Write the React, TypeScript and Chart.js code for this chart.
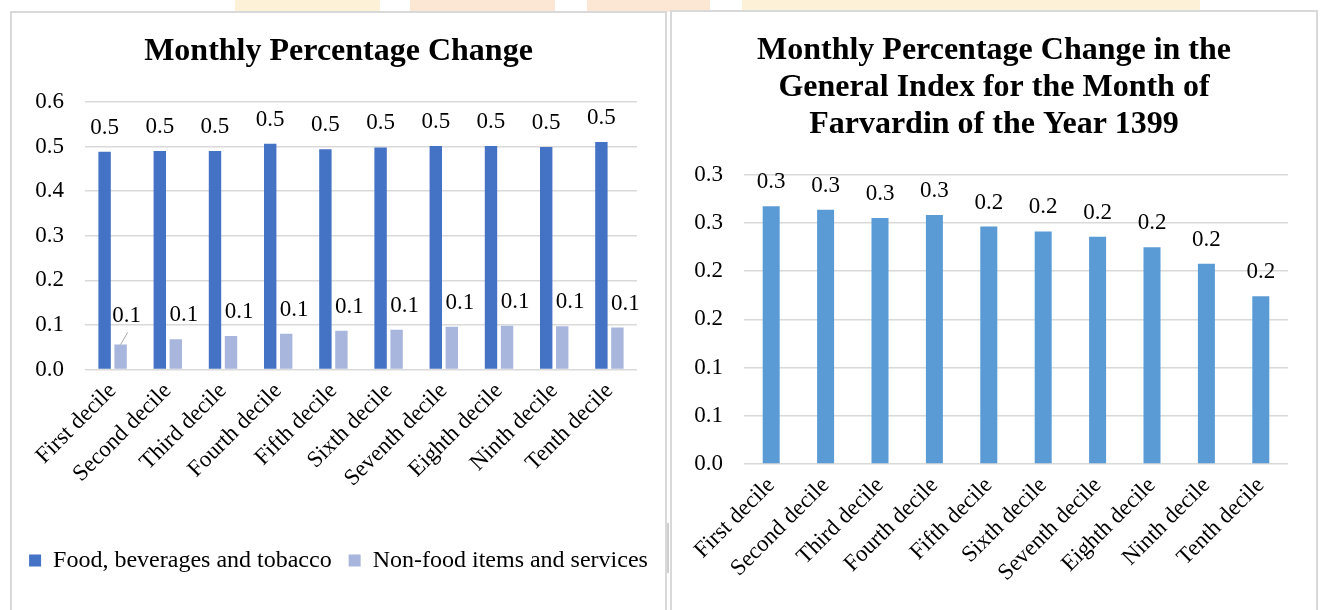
import React, { useEffect, useRef } from "react";
import { Chart, registerables } from "chart.js";

Chart.register(...registerables);

// ---------- data ----------
const deciles = [
  "First decile",
  "Second decile",
  "Third decile",
  "Fourth decile",
  "Fifth decile",
  "Sixth decile",
  "Seventh decile",
  "Eighth decile",
  "Ninth decile",
  "Tenth decile",
];
const leftSeriesNames = ["Food, beverages and tobacco", "Non-food items and services"];
const foodValues = [0.488, 0.49, 0.49, 0.506, 0.494, 0.498, 0.501, 0.501, 0.499, 0.51];
const nonFoodValues = [0.056, 0.068, 0.075, 0.08, 0.087, 0.089, 0.096, 0.098, 0.097, 0.094];
const generalIndexValues = [0.267, 0.2635, 0.255, 0.258, 0.246, 0.241, 0.2355, 0.2245, 0.2076, 0.1738];

const leftTitle = "Monthly Percentage Change";
const rightTitle = [
  "Monthly Percentage Change in the",
  "General Index for the Month of",
  "Farvardin of the Year 1399",
];
const leftTickLabels = ["0.0", "0.1", "0.2", "0.3", "0.4", "0.5", "0.6"];
const rightTickLabels = ["0.0", "0.1", "0.1", "0.2", "0.2", "0.3", "0.3"];

// ---------- styling ----------
const FONT = "'Liberation Serif', 'Times New Roman', serif";
const GRID = "#d9d9d9";

type LabelSpec = { dx: number; dy: number; leaderIndex?: number; leaderDx?: number; leaderDy?: number };

const makeLabelPlugin = (specs: LabelSpec[]) => ({
  id: "valueLabels",
  afterDatasetsDraw(chart: any) {
    const ctx = chart.ctx;
    ctx.save();
    ctx.font = `23px ${FONT}`;
    ctx.fillStyle = "#000";
    ctx.textAlign = "center";
    ctx.textBaseline = "middle";
    chart.data.datasets.forEach((ds: any, di: number) => {
      const meta = chart.getDatasetMeta(di);
      const spec = specs[di];
      meta.data.forEach((bar: any, i: number) => {
        const v = ds.data[i] as number;
        const lead = spec.leaderIndex === i;
        const dx = lead ? spec.leaderDx! : spec.dx;
        const dy = lead ? spec.leaderDy! : spec.dy;
        ctx.fillText(v.toFixed(1), bar.x + dx, bar.y + dy);
        if (lead) {
          ctx.strokeStyle = "#a6a6a6";
          ctx.lineWidth = 1;
          ctx.beginPath();
          ctx.moveTo(bar.x, bar.y);
          ctx.lineTo(bar.x + 7, bar.y - 12);
          ctx.stroke();
        }
      });
    });
    ctx.restore();
  },
});

const titleOpts = (text: string | string[]) => ({
  display: true,
  text,
  color: "#000",
  font: { family: FONT, size: 32, weight: "bold" as const, lineHeight: 1.15 },
  padding: { top: 22.5, bottom: 31.6 },
});

const yScale = (max: number, step: number, labels: string[], width: number) => ({
  min: 0,
  max,
  ticks: {
    stepSize: step,
    color: "#000",
    padding: 21,
    font: { family: FONT, size: 23 },
    callback: (_v: any, i: number) => labels[i],
  },
  grid: { color: GRID, lineWidth: 1.5, drawTicks: false },
  border: { display: false },
  afterFit: (s: any) => {
    s.width = width;
  },
});

// empty right-hand spacer that keeps the plot area off the frame edge
const rightSpacer = (width: number) => ({
  type: "linear",
  position: "right",
  display: true,
  grid: { display: false, drawTicks: false },
  ticks: { display: false },
  border: { display: false },
  afterFit: (s: any) => {
    s.width = width;
  },
});

const xScale = (height: number) => ({
  ticks: {
    color: "#000",
    maxRotation: 45,
    minRotation: 45,
    padding: 8,
    autoSkip: false,
    font: { family: FONT, size: 23 },
  },
  grid: { display: false, drawTicks: false },
  border: { display: false },
  afterFit: (s: any) => {
    s.height = height;
  },
});

function ChartBox({ makeConfig, style }: { makeConfig: () => any; style: React.CSSProperties }) {
  const ref = useRef<HTMLCanvasElement>(null);
  useEffect(() => {
    const chart = new Chart(ref.current as HTMLCanvasElement, makeConfig());
    return () => chart.destroy();
  }, []);
  return (
    <div style={{ position: "absolute", ...style }}>
      <canvas ref={ref} />
    </div>
  );
}

const leftConfig = () => ({
  type: "bar",
  data: {
    labels: deciles,
    datasets: [
      {
        label: leftSeriesNames[0],
        data: foodValues,
        backgroundColor: "#4472C4",
        borderWidth: 0,
        categoryPercentage: 0.58,
        barPercentage: 0.775,
      },
      {
        label: leftSeriesNames[1],
        data: nonFoodValues,
        backgroundColor: "#A8B6DD",
        borderWidth: 0,
        categoryPercentage: 0.58,
        barPercentage: 0.775,
      },
    ],
  },
  options: {
    animation: false,
    responsive: true,
    maintainAspectRatio: false,
    layout: { padding: { left: 0, right: 0, top: 0, bottom: 27.5 } },
    plugins: {
      title: titleOpts(leftTitle),
      legend: {
        display: true,
        position: "bottom",
        labels: {
          color: "#000",
          boxWidth: 12,
          boxHeight: 12,
          padding: 17,
          font: { family: FONT, size: 24 },
        },
      },
      tooltip: { enabled: false },
    },
    scales: {
      x: xScale(162),
      y: yScale(0.6, 0.1, leftTickLabels, 75),
      pad: rightSpacer(30),
    },
  },
  plugins: [
    makeLabelPlugin([
      { dx: 0, dy: -24 },
      { dx: 8, dy: -24, leaderIndex: 0, leaderDx: 6, leaderDy: -29 },
    ]),
  ],
});

const rightConfig = () => ({
  type: "bar",
  data: {
    labels: deciles,
    datasets: [
      {
        label: "General index",
        data: generalIndexValues,
        backgroundColor: "#5B9BD5",
        borderWidth: 0,
        categoryPercentage: 0.5,
        barPercentage: 0.625,
      },
    ],
  },
  options: {
    animation: false,
    responsive: true,
    maintainAspectRatio: false,
    layout: { padding: { left: 0, right: 0, top: 0, bottom: 0 } },
    plugins: {
      title: titleOpts(rightTitle),
      legend: { display: false },
      tooltip: { enabled: false },
    },
    scales: {
      x: xScale(146),
      y: yScale(0.3, 0.05, rightTickLabels, 74),
      pad: rightSpacer(30),
    },
  },
  plugins: [makeLabelPlugin([{ dx: 0, dy: -24 }])],
});

export default function App() {
  return (
    <div
      style={{
        position: "absolute",
        left: 0,
        top: 0,
        width: 1321,
        height: 610,
        overflow: "hidden",
        background: "#fff",
      }}
    >
      {/* faint decorative bands at the top */}
      <div style={{ position: "absolute", left: 235, top: 0, width: 145, height: 12, background: "#fdf1d8" }} />
      <div style={{ position: "absolute", left: 410, top: 0, width: 145, height: 12, background: "#fce6d4" }} />
      <div style={{ position: "absolute", left: 587, top: 0, width: 123, height: 12, background: "#fce6d4" }} />
      <div style={{ position: "absolute", left: 742, top: 0, width: 458, height: 12, background: "#fdf1d8" }} />
      {/* frames */}
      <div
        style={{
          position: "absolute",
          left: 10,
          top: 11,
          width: 657,
          height: 620,
          boxSizing: "border-box",
          border: "2px solid #d9d9d9",
          background: "#fff",
        }}
      />
      <div
        style={{
          position: "absolute",
          left: 670,
          top: 10,
          width: 648,
          height: 620,
          boxSizing: "border-box",
          border: "2px solid #d9d9d9",
          background: "#fff",
        }}
      />
      <div style={{ position: "absolute", left: 667, top: 523, width: 2, height: 50, background: "#cfcfcf" }} />
      <ChartBox makeConfig={leftConfig} style={{ left: 10, top: 11, width: 657, height: 599 }} />
      <ChartBox makeConfig={rightConfig} style={{ left: 670, top: 10, width: 648, height: 600 }} />
    </div>
  );
}
